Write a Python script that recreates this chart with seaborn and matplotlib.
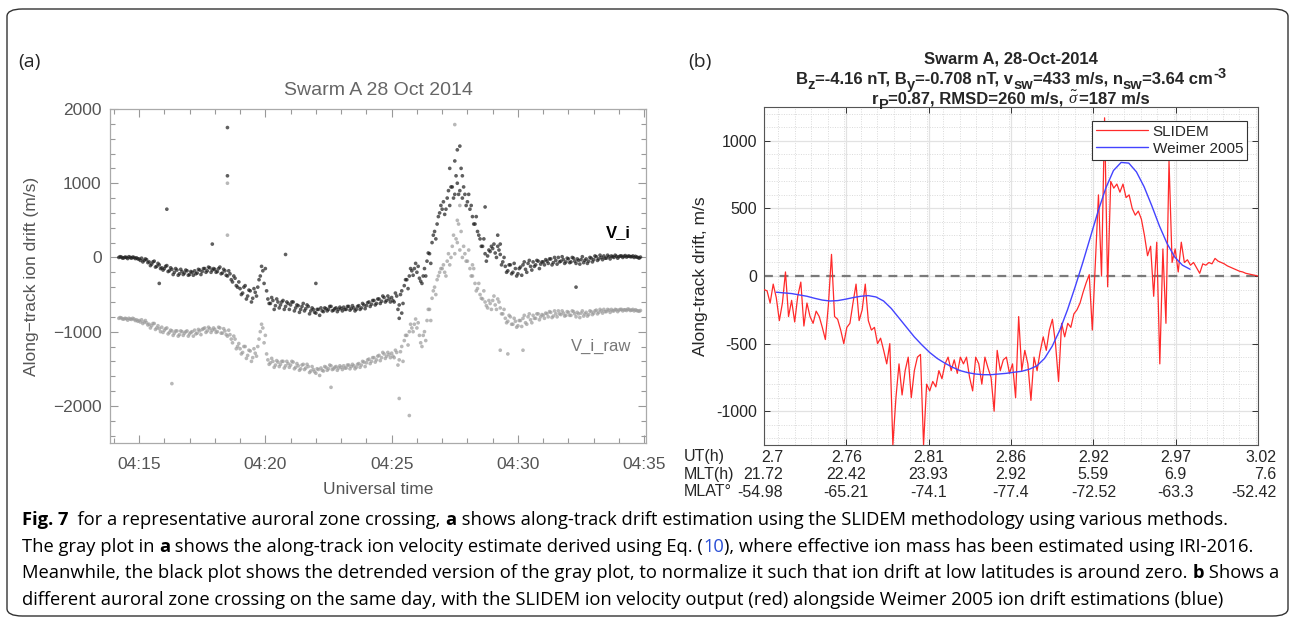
import numpy as np
import pandas as pd
import matplotlib
matplotlib.use("Agg")
import matplotlib.pyplot as plt
import matplotlib.transforms as mtransforms
from matplotlib.patches import FancyBboxPatch
from matplotlib.ticker import MultipleLocator, FuncFormatter, FixedLocator
import seaborn as sns

# ---------------- panel (a): Swarm A, minutes after 04:00 UT, every 0.1 min ----------------
minute_first, minute_last = 14.2, 34.8
# two readings per time step (both edges of each dotted band)
v_i = [
    0, 5, -5, 0, 10, -10, 0, -5,
    -20, -10, -40, -30, -60, -90, -50, -120, -100, -140,
    -150, -110, -180, -160, -200, -170, -220, -190, -210, -180,
    -230, -200, -180, -210, -170, -190, -150, -180, -140, -170,
    -160, -190, -130, -210, -180, -250, -220, -330, -280, -400,
    -420, -480, -380, -520, -450, -550, -470, -400, -250, -180,
    -150, -560, -620, -580, -650, -600, -640, -580, -660, -620,
    -640, -600, -680, -650, -700, -620, -690, -660, -720, -700,
    -750, -700, -680, -730, -690, -700, -660, -710, -680, -700,
    -690, -670, -700, -660, -690, -680, -700, -650, -680, -640,
    -650, -600, -630, -580, -620, -560, -590, -540, -580, -560,
    -540, -600, -520, -640, -450, -380, -300, -250, -180, -150,
    -200, -280, -350, -150, -50, 50, 200, 350, 450, 600,
    650, 580, 800, 700, 950, 850, 1000, 900, 800, 850,
    750, 650, 550, 450, 350, 250, 150, 50, 20, 80,
    120, 60, 150, 40, -60, -120, -180, -100, -200, -150,
    -220, -130, -100, -160, -80, -120, -60, -100, -50, -90,
    -60, -30, -80, -20, -70, -40, 0, -50, -30, -60,
    -20, -60, -10, -80, -40, -30, -70, -20, -50, -10,
    -30, 10, -20, 0, 20, -10, 10, 20, 0, 15,
    10, 20, 15, 5, 20, 10, 0, 5, -10,
]
v_i_b = [
    10, -10, 5, -15, 0, 5, -15, -20,
    -40, -60, -20, -70, -110, -60, -130, -80, -150, -170,
    -120, -190, -140, -230, -150, -240, -160, -230, -170, -240,
    -190, -240, -220, -160, -230, -150, -200, -130, -200, -150,
    -200, -150, -220, -160, -240, -180, -300, -250, -380, -330,
    -500, -400, -560, -440, -600, -420, -520, -300, -120, -350,
    -450, -620, -540, -700, -560, -680, -600, -700, -600, -700,
    -600, -720, -640, -740, -660, -720, -640, -760, -680, -740,
    -700, -780, -720, -680, -720, -660, -720, -690, -730, -670,
    -720, -700, -660, -710, -650, -720, -660, -700, -620, -690,
    -610, -660, -580, -640, -560, -620, -520, -600, -520, -600,
    -580, -480, -700, -500, -620, -300, -420, -150, -240, -80,
    -120, -320, -250, -250, 60, -80, 300, 250, 550, 700,
    750, 650, 900, 950, 800, 1100, 850, 1200, 950, 700,
    850, 700, 450, 550, 300, 150, 250, -50, 100, 150,
    180, 0, 100, -100, 0, -200, -100, -220, -80, -250,
    -150, -240, -60, -200, -40, -170, -120, -40, -150, -60,
    -100, -50, -20, -100, 0, -90, -60, 10, -80, -10,
    -70, 0, -50, -20, -90, 10, -40, -80, 0, -60,
    20, -40, 30, -30, -10, 30, -20, 10, 30, -10,
    20, 0, 25, 15, 10, 20, 15, 0, 5,
]
v_i_raw = [
    -820, -815, -830, -825, -820, -835, -830, -840,
    -850, -840, -870, -880, -900, -920, -890, -950, -960, -940,
    -980, -950, -1010, -990, -1020, -990, -1040, -1000, -1020, -990,
    -1030, -1000, -980, -1020, -990, -970, -950, -990, -960, -980,
    -970, -1000, -950, -1020, -990, -1060, -1040, -1150, -1100, -1200,
    -1230, -1280, -1200, -1320, -1260, -1350, -1290, -1200, -1000, -950,
    -1050, -1380, -1420, -1400, -1450, -1410, -1440, -1400, -1460, -1430,
    -1450, -1410, -1480, -1460, -1500, -1440, -1490, -1470, -1530, -1510,
    -1560, -1510, -1490, -1530, -1480, -1500, -1460, -1500, -1470, -1490,
    -1480, -1460, -1490, -1450, -1470, -1460, -1480, -1430, -1450, -1410,
    -1420, -1370, -1400, -1350, -1380, -1320, -1350, -1300, -1330, -1310,
    -1290, -1350, -1280, -1380, -1200, -1120, -1050, -1000, -950, -900,
    -950, -1050, -1200, -1000, -850, -700, -550, -400, -300, -200,
    -150, -200, -50, -100, 150, 50, 200, 100, 0, 50,
    -50, -150, -250, -350, -420, -500, -560, -600, -680, -620,
    -580, -640, -560, -680, -760, -820, -860, -800, -900, -860,
    -920, -850, -820, -880, -800, -840, -780, -820, -760, -800,
    -780, -750, -800, -740, -790, -760, -720, -770, -750, -780,
    -740, -780, -730, -800, -760, -750, -790, -740, -770, -730,
    -750, -710, -740, -720, -700, -730, -710, -700, -720, -705,
    -710, -700, -705, -715, -700, -710, -720, -715, -725,
]
v_i_raw_b = [
    -810, -830, -820, -845, -830, -820, -850, -860,
    -870, -890, -850, -910, -950, -890, -970, -920, -1000, -1010,
    -960, -1030, -980, -1050, -990, -1060, -990, -1050, -1000, -1060,
    -1010, -1060, -1030, -970, -1040, -960, -1010, -940, -1010, -950,
    -1010, -940, -1020, -960, -1040, -980, -1100, -1060, -1230, -1160,
    -1300, -1200, -1360, -1250, -1400, -1230, -1330, -1100, -900, -1150,
    -1300, -1440, -1360, -1480, -1390, -1470, -1400, -1490, -1400, -1480,
    -1400, -1500, -1430, -1520, -1450, -1510, -1440, -1550, -1470, -1540,
    -1500, -1590, -1520, -1470, -1520, -1450, -1510, -1480, -1520, -1460,
    -1510, -1490, -1450, -1500, -1440, -1500, -1440, -1480, -1400, -1470,
    -1380, -1430, -1350, -1410, -1330, -1390, -1280, -1360, -1280, -1350,
    -1330, -1250, -1450, -1270, -1400, -1050, -1180, -900, -1000, -830,
    -880, -1150, -1050, -1120, -700, -850, -450, -500, -250, -150,
    -100, -250, 50, 0, 300, 250, 450, 350, 150, -50,
    100, -250, -150, -450, -350, -550, -450, -650, -580, -700,
    -520, -700, -600, -760, -700, -880, -780, -900, -820, -940,
    -850, -930, -780, -900, -760, -880, -820, -760, -840, -770,
    -820, -760, -730, -810, -720, -800, -760, -720, -790, -730,
    -780, -720, -760, -740, -810, -720, -760, -790, -720, -770,
    -720, -760, -700, -750, -730, -700, -740, -720, -700, -730,
    -700, -720, -705, -695, -715, -700, -705, -720, -715,
]
# isolated points away from the bands
v_i_spike_min = [15.8, 16.1, 17.9, 18.5, 18.5, 20.8, 22.0, 25.3, 25.4, 27.3, 27.5, 27.6, 27.7, 27.8, 28.7, 29.2, 29.3, 32.3]
v_i_spike_val = [-350, 650, 180, 1750, 1100, 40, -350, -820, -750, 1200, 1300, 1450, 1500, 1100, 680, 300, 180, -400]
raw_spike_min = [16.3, 18.5, 18.5, 22.6, 25.3, 25.7, 27.5, 27.6, 27.7, 28.2, 29.3, 29.6, 30.2]
raw_spike_val = [-1700, 1000, 300, -1750, -1900, -2130, 1790, 500, 700, -100, -1250, -1300, -1250]

# ---------------- panel (b): SLIDEM vs Weimer 2005 ----------------
ut_first, ut_last = 2.7, 3.02
slidem = [
    -100, -110, -200, -60, -160, -330, -200, 30, -300, -180,
    -340, -150, -45, -370, -200, -300, -350, -260, -300, -380,
    -470, -210, 160, -300, -320, -400, -500, -380, -350, -200,
    -60, -330, -250, -60, -330, -400, -380, -500, -460, -550,
    -650, -500, -1250, -900, -650, -880, -700, -600, -900, -700,
    -600, -580, -1250, -800, -850, -780, -820, -700, -760, -650,
    -600, -700, -620, -720, -600, -650, -600, -750, -850, -600,
    -650, -800, -600, -680, -750, -1000, -550, -700, -620, -600,
    -720, -650, -900, -300, -700, -550, -650, -920, -600, -700,
    -560, -450, -550, -400, -320, -500, -780, -350, -450, -350,
    -380, -280, -250, -200, -120, -50, 10, -400, 100, 600,
    0, 1170, -80, 700, 650, 680, 620, 680, 580, 600,
    500, 450, 480, 420, 300, 150, 220, -150, 250, -650,
    200, -350, 850, 100, 200, 30, 250, 100, 120, 80,
    100, 60, 20, 90, 80, 100, 90, 130, 110, 100,
    90, 75, 65, 55, 45, 35, 30, 20, 15, 10,
    5, 0,
]
weimer_ut_first, weimer_ut_last = 2.708, 2.976
weimer = [
    -120, -125, -130, -140, -150, -165, -178, -185, -182, -172,
    -160, -150, -145, -155, -185, -240, -310, -380, -450, -510,
    -565, -610, -645, -675, -700, -715, -725, -730, -730, -725,
    -720, -712, -705, -690, -665, -610, -520, -400, -250, -80,
    100, 290, 480, 650, 780, 840, 835, 770, 660, 520,
    370, 240, 140, 80, 50,
]
ut_labels = ["2.7", "2.76", "2.81", "2.86", "2.92", "2.97", "3.02"]
mlt_labels = ["21.72", "22.42", "23.93", "2.92", "5.59", "6.9", "7.6"]
mlat_labels = ["-54.98", "-65.21", "-74.1", "-77.4", "-72.52", "-63.3", "-52.42"]

# title of panel (b): (text, position) with position "", "sub" or "sup"
title_b = [
    [("Swarm A, 28-Oct-2014", "")],
    [("B", ""), ("z", "sub"), ("=-4.16 nT, B", ""), ("y", "sub"), ("=-0.708 nT, v", ""), ("sw", "sub"),
     ("=433 m/s, n", ""), ("sw", "sub"), ("=3.64 cm", ""), ("-3", "sup")],
    [("r", ""), ("P", "sub"), ("=0.87, RMSD=260 m/s, ", ""), (r"$\tilde{\sigma}$", ""), ("=187 m/s", "")],
]

caption_lines = [
    [("Fig. 7", "bold", "black"), ("  for a representative auroral zone crossing, ", "normal", "black"),
     ("a", "bold", "black"), (" shows along-track drift estimation using the SLIDEM methodology using various methods.", "normal", "black")],
    [("The gray plot in ", "normal", "black"), ("a", "bold", "black"),
     (" shows the along-track ion velocity estimate derived using Eq. (", "normal", "black"), ("10", "normal", "#2a4fd6"),
     ("), where effective ion mass has been estimated using IRI-2016.", "normal", "black")],
    [("Meanwhile, the black plot shows the detrended version of the gray plot, to normalize it such that ion drift at low latitudes is around zero. ", "normal", "black"),
     ("b", "bold", "black"), (" Shows a", "normal", "black")],
    [("different auroral zone crossing on the same day, with the SLIDEM ion velocity output (red) alongside Weimer 2005 ion drift estimations (blue)", "normal", "black")],
]

# ---------------- style ----------------
sns.set_style("ticks")
plt.rcParams["font.family"] = ["Liberation Sans", "DejaVu Sans"]
plt.rcParams["mathtext.fontset"] = "custom"
plt.rcParams["mathtext.rm"] = "Liberation Sans"
plt.rcParams["mathtext.bf"] = "Liberation Sans:bold"
plt.rcParams["mathtext.it"] = "Liberation Serif:italic"
cap_font = "Open Sans"

fig = plt.figure(figsize=(12.9, 6.2), dpi=100)
W, H = 1290, 620


def fig_axes(left, top, right, bottom):
    return fig.add_axes([left / W, 1 - bottom / H, (right - left) / W, (bottom - top) / H])


# ---------------- panel (a) ----------------
minutes = np.round(np.arange(round(minute_first * 10), round(minute_last * 10) + 1) / 10, 1)
df_a = pd.concat([
    pd.DataFrame({"minute": minutes, "drift": v_i_raw, "series": "V_i_raw"}),
    pd.DataFrame({"minute": minutes + 0.05, "drift": v_i_raw_b, "series": "V_i_raw"}),
    pd.DataFrame({"minute": raw_spike_min, "drift": raw_spike_val, "series": "V_i_raw"}),
    pd.DataFrame({"minute": minutes, "drift": v_i, "series": "V_i"}),
    pd.DataFrame({"minute": minutes + 0.05, "drift": v_i_b, "series": "V_i"}),
    pd.DataFrame({"minute": v_i_spike_min, "drift": v_i_spike_val, "series": "V_i"}),
])

ax1 = fig_axes(110, 109, 646, 443)
sns.scatterplot(data=df_a, x="minute", y="drift", hue="series",
                palette={"V_i": "#1c1c1c", "V_i_raw": "#9a9a9a"},
                s=7, linewidth=0, alpha=0.7, legend=False, ax=ax1)
ax1.set_xlim(13.85, 35.07)
ax1.set_ylim(-2500, 2000)
ax1.xaxis.set_major_locator(MultipleLocator(5))
ax1.xaxis.set_minor_locator(MultipleLocator(1))
ax1.yaxis.set_major_locator(MultipleLocator(1000))
ax1.yaxis.set_minor_locator(MultipleLocator(200))
ax1.xaxis.set_major_formatter(FuncFormatter(lambda m, p: f"04:{int(round(m)):02d}"))
ax1.yaxis.set_major_formatter(FuncFormatter(lambda v, p: f"{v:.0f}".replace("-", "\u2212")))
ax1.tick_params(which="both", direction="in", top=True, right=True, color="#999999",
                labelcolor="#555555", labelsize=12.5, width=0.8)
ax1.tick_params(which="major", length=6, pad=6)
ax1.tick_params(axis="x", which="major", pad=10)
ax1.tick_params(which="minor", length=3.5)
for sp in ax1.spines.values():
    sp.set_color("#aaaaaa")
    sp.set_linewidth(0.9)
ax1.set_xlabel("Universal time", color="#555555", fontsize=12.5, labelpad=7)
ax1.set_ylabel("Along\u2212track ion drift (m/s)", color="#555555", fontsize=12.5, labelpad=10)
ax1.set_title("Swarm A 28 Oct 2014", color="#666666", fontsize=14, pad=10)
lab_tr = mtransforms.blended_transform_factory(ax1.transAxes, ax1.transData)
ax1.text(0.972, 330, "V_i", transform=lab_tr, ha="right", va="center",
         fontsize=12, fontweight="bold", color="black")
ax1.text(0.972, -1200, "V_i_raw", transform=lab_tr, ha="right", va="center",
         fontsize=12, color="#777777")
fig.text(18 / W, 1 - 62 / H, "(a)", fontsize=14, family="Open Sans", va="center", ha="left")

# ---------------- panel (b) ----------------
slidem_ut = np.linspace(ut_first, ut_last, len(slidem))
weimer_ut = np.linspace(weimer_ut_first, weimer_ut_last, len(weimer))
ax2 = fig_axes(764, 107, 1258, 445)
ax2.set_axisbelow(True)
ax2.axhline(0, color="#7a7a7a", lw=1.6, ls=(0, (4, 3)), zorder=1)
sns.lineplot(x=slidem_ut, y=slidem, color="#ff2a2a", lw=0.9, estimator=None, sort=False,
             label="SLIDEM", ax=ax2, zorder=3)
sns.lineplot(x=weimer_ut, y=weimer, color="#4343ff", lw=1.0, estimator=None, sort=False,
             label="Weimer 2005", ax=ax2, zorder=4)
ax2.set_xlim(ut_first, ut_last)
ax2.set_ylim(-1250, 1250)
ut_ticks = np.linspace(ut_first, ut_last, len(ut_labels))
ax2.xaxis.set_major_locator(FixedLocator(ut_ticks))
ax2.xaxis.set_minor_locator(MultipleLocator((ut_last - ut_first) / 30))
ax2.yaxis.set_major_locator(MultipleLocator(500))
ax2.yaxis.set_minor_locator(MultipleLocator(100))
ax2.set_xticklabels([""] * len(ut_ticks))
ax2.yaxis.set_major_formatter(FuncFormatter(lambda v, p: f"{v:.0f}"))
ax2.grid(which="major", color="#e2e2e2", lw=0.9)
ax2.grid(which="minor", color="#dadada", lw=0.7, ls=(0, (1, 1.5)))
ax2.tick_params(which="both", direction="in", top=True, right=True, color="#333333",
                labelsize=11.5, width=0.7)
ax2.tick_params(which="major", length=4, pad=5)
ax2.tick_params(which="minor", length=0)
for sp in ax2.spines.values():
    sp.set_color("#555555")
    sp.set_linewidth(0.8)
ax2.set_xlabel("")
ax2.set_ylabel("Along-track drift, m/s", fontsize=12.5, labelpad=6)
leg = ax2.legend(loc="upper right", bbox_to_anchor=(0.978, 0.959), borderaxespad=0, fancybox=False,
                 framealpha=1, edgecolor="#333333", fontsize=11, handlelength=3.4,
                 handletextpad=0.3, borderpad=0.25, labelspacing=0.2)
leg.get_frame().set_linewidth(0.8)

# tick table below panel (b)
blend = mtransforms.blended_transform_factory(ax2.transData, ax2.transAxes)
rows = [(ut_labels, -0.036), (mlt_labels, -0.088), (mlat_labels, -0.14)]
for labels, ypos in rows:
    for k, (xv, lab) in enumerate(zip(ut_ticks, labels)):
        if k == 0:
            tr = blend + mtransforms.ScaledTranslation(19 / 100, 0, fig.dpi_scale_trans)
            ha = "right"
        elif k == len(labels) - 1:
            tr = blend + mtransforms.ScaledTranslation(18 / 100, 0, fig.dpi_scale_trans)
            ha = "right"
        else:
            tr, ha = blend, "center"
        ax2.text(xv, ypos, lab, transform=tr, ha=ha, va="center", fontsize=11.5)
for name, ypos in zip(["UT(h)", "MLT(h)", "MLAT\u00b0"], [457, 475, 492]):
    fig.text(684 / W, 1 - ypos / H, name, ha="left", va="center", fontsize=11.5)

fig.text(688 / W, 1 - 62 / H, "(b)", fontsize=14, family="Open Sans", va="center", ha="left")

fig.canvas.draw()
renderer = fig.canvas.get_renderer()

# titles of panel (b), centred over the axes, sub/superscripts laid out piece by piece
cx_px = (764 + 1258) / 2
shift = {"": 0, "sub": -5, "sup": 6}
for li, pieces in enumerate(title_b):
    base_px = 64 + 20 * li
    made = []
    for txt, pos in pieces:
        size = 12 if pos == "" else 10.5
        t = fig.text(0, 1 - (base_px - shift[pos]) / H, txt, fontsize=size, fontweight="bold",
                     va="baseline", ha="left")
        made.append(t)
    widths = [t.get_window_extent(renderer).width for t in made]
    x_px = cx_px - sum(widths) / 2
    for t, w in zip(made, widths):
        t.set_x(x_px / W)
        x_px += w

# ---------------- caption (pieces laid out one after another) ----------------
cap_size = 13.2
for li, pieces in enumerate(caption_lines):
    x_px = 22.0
    y = 1 - (525 + 26.6 * li) / H
    for txt, weight, col in pieces:
        t = fig.text(x_px / W, y, txt, fontsize=cap_size, fontweight=weight, color=col,
                     family=cap_font, va="baseline", ha="left")
        x_px += t.get_window_extent(renderer).width

fig.patches.append(FancyBboxPatch((7 / W, 4 / H), 1281 / W, 607 / H,
                                  boxstyle="round,pad=0,rounding_size=0.012",
                                  transform=fig.transFigure, fill=False, edgecolor="#333333", lw=1.0))
fig.savefig("out.png", dpi=100)
